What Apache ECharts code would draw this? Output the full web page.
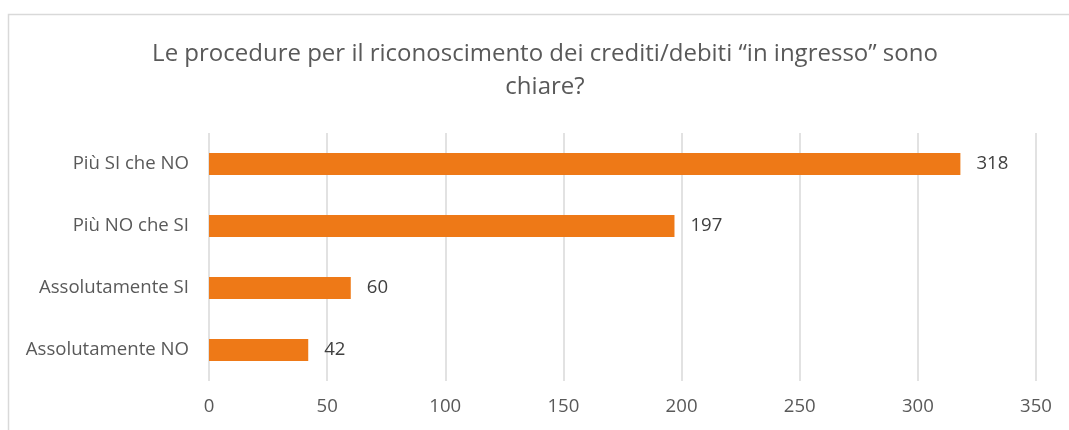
<!DOCTYPE html>
<html>
<head>
<meta charset="utf-8">
<script src="https://cdn.jsdelivr.net/npm/echarts@6/dist/echarts.min.js"></script>
<style>
  html, body { margin: 0; padding: 0; background: #fff; }
  #chart { width: 1069px; height: 430px; }
</style>
</head>
<body>
<div id="chart"></div>
<script>
// categories, bottom to top
var categorie = ['Assolutamente NO', 'Assolutamente SI', 'Più NO che SI', 'Più SI che NO'];
var risposte = [42, 60, 197, 318];
var xTicks = [0, 50, 100, 150, 200, 250, 300, 350];

var chart = echarts.init(document.getElementById('chart'));
var font = '"Open Sans", "Noto Sans", sans-serif';

var option = {
  animation: false,
  backgroundColor: '#fff',
  textStyle: { fontFamily: font },
  graphic: [
    {
      type: 'rect',
      shape: { x: 8.5, y: 14.5, width: 1100, height: 500 },
      style: { fill: 'none', stroke: '#d9d9d9', lineWidth: 1.5 },
      silent: true
    }
  ],
  title: {
    text: 'Le procedure per il riconoscimento dei crediti/debiti “in ingresso” sono\nchiare?',
    left: 540,
    textAlign: 'center',
    top: 33,
    textStyle: {
      fontFamily: font,
      fontSize: 24,
      fontWeight: 'normal',
      color: '#595959',
      lineHeight: 33
    }
  },
  grid: { left: 209, right: 33, top: 133, bottom: 49 },
  xAxis: {
    type: 'value',
    min: xTicks[0],
    max: xTicks[xTicks.length - 1],
    interval: 50,
    axisLine: { show: false },
    axisTick: { show: false },
    splitLine: { lineStyle: { color: '#d9d9d9', width: 1.5 } },
    axisLabel: { color: '#595959', fontSize: 18.6, margin: 16, fontFamily: font }
  },
  yAxis: {
    type: 'category',
    data: categorie,
    axisLine: { show: false },
    axisTick: { show: false },
    axisLabel: { color: '#595959', fontSize: 18.6, margin: 20, fontFamily: font }
  },
  series: [
    {
      type: 'bar',
      data: risposte,
      barWidth: 22,
      itemStyle: { color: '#ee7917' },
      label: {
        show: true,
        position: 'right',
        distance: 16,
        color: '#404040',
        fontSize: 18.6,
        fontFamily: font
      }
    }
  ]
};

chart.setOption(option);
</script>
</body>
</html>
